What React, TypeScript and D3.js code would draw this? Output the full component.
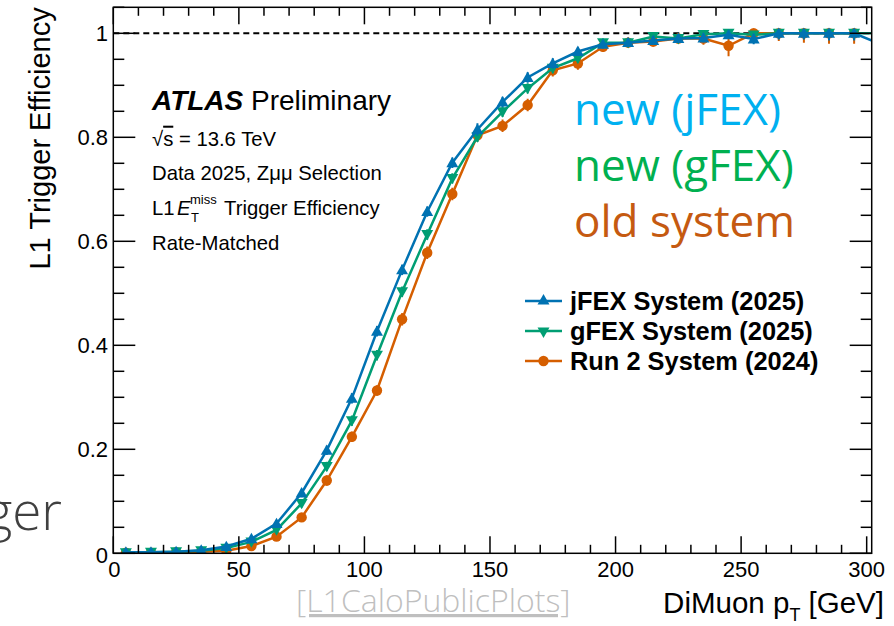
import React from "react";
import * as d3 from "d3";

// ---- data ----
const binCenters = [5, 15, 25, 35, 45, 55, 65, 75, 85, 95, 105, 115, 125, 135, 145, 155, 165, 175, 185, 195, 205, 215, 225, 235, 245, 255, 265, 275, 285, 295, 305];
const jfexEff = [0.002, 0.002, 0.003, 0.006, 0.013, 0.028, 0.057, 0.116, 0.198, 0.298, 0.427, 0.545, 0.657, 0.751, 0.815, 0.868, 0.915, 0.942, 0.965, 0.979, 0.982, 0.986, 0.99, 0.991, 0.997, 0.989, 1.0, 1.0, 1.0, 1.0, 0.98];
const jfexErr = [0.001, 0.001, 0.001, 0.002, 0.003, 0.004, 0.006, 0.008, 0.009, 0.01, 0.01, 0.01, 0.01, 0.01, 0.012, 0.01, 0.01, 0.01, 0.008, 0.008, 0.008, 0.008, 0.008, 0.008, 0.008, 0.01, 0.012, 0.012, 0.014, 0.014, 0.02];
const gfexEff = [0.001, 0.002, 0.003, 0.005, 0.01, 0.022, 0.045, 0.096, 0.167, 0.255, 0.381, 0.503, 0.613, 0.721, 0.801, 0.849, 0.894, 0.933, 0.952, 0.982, 0.982, 0.994, 0.99, 0.998, 1.0, 0.997, 1.0, 1.0, 1.0, 1.0, 1.0];
const gfexErr = [0.001, 0.001, 0.001, 0.002, 0.003, 0.004, 0.006, 0.008, 0.009, 0.01, 0.01, 0.01, 0.01, 0.01, 0.01, 0.01, 0.01, 0.01, 0.008, 0.008, 0.008, 0.008, 0.008, 0.006, 0.006, 0.008, 0.01, 0.01, 0.012, 0.012, 0.01];
const run2Eff = [0.001, 0.001, 0.002, 0.003, 0.005, 0.014, 0.032, 0.069, 0.14, 0.224, 0.313, 0.45, 0.578, 0.691, 0.804, 0.822, 0.862, 0.929, 0.942, 0.974, 0.982, 0.984, 0.99, 0.99, 0.976, 1.0, 1.0, 1.0, 1.0, 1.0];
const run2Err = [0.001, 0.001, 0.001, 0.002, 0.003, 0.004, 0.006, 0.008, 0.01, 0.01, 0.01, 0.012, 0.012, 0.012, 0.012, 0.012, 0.012, 0.012, 0.012, 0.01, 0.01, 0.01, 0.01, 0.012, 0.02, 0.01, 0.015, 0.018, 0.02, 0.02];

const xTicksMajor = [0, 50, 100, 150, 200, 250, 300];
const yTicksMajor = [0, 0.2, 0.4, 0.6, 0.8, 1];
const yTickLabels = ["0", "0.2", "0.4", "0.6", "0.8", "1"];
const legendLabels = ["jFEX System (2025)", "gFEX System (2025)", "Run 2 System (2024)"];
const slideLabels = ["new (jFEX)", "new (gFEX)", "old system"];

const BLUE = "#0072B2";
const GREEN = "#009E73";
const ORANGE = "#D55E00";

const W = 894, H = 626;
const L = 113.3, R = 871.7, T = 7.3, B = 553.3;

const x = d3.scaleLinear().domain([0, 302]).range([L, R]);
const y = d3.scaleLinear().domain([0, 1.05]).range([B, T]);

type Series = { name: string; eff: number[]; err: number[]; color: string; symbol: d3.SymbolType; rot: number; size: number };

const series: Series[] = [
  { name: legendLabels[2], eff: run2Eff, err: run2Err, color: ORANGE, symbol: d3.symbolCircle, rot: 0, size: 85 },
  { name: legendLabels[1], eff: gfexEff, err: gfexErr, color: GREEN, symbol: d3.symbolTriangle, rot: 180, size: 62 },
  { name: legendLabels[0], eff: jfexEff, err: jfexErr, color: BLUE, symbol: d3.symbolTriangle, rot: 0, size: 62 },
];

const helv = "'Liberation Sans', Arial, Helvetica, sans-serif";
const slideFont = "'Open Sans', 'Noto Sans', sans-serif";

export default function App() {
  const line = d3.line<number>().x((_, i) => x(binCenters[i])).y((d) => y(d));
  const xMinor = d3.range(0, 301, 10).filter((v) => v % 50 !== 0);
  const yMinor = d3.range(0, 1.0501, 0.05).filter((v) => Math.abs(v * 5 - Math.round(v * 5)) > 1e-6);
  const legendOrder = [series[2], series[1], series[0]];

  return (
    <svg width={W} height={H} style={{ position: "absolute", left: 0, top: 0, background: "#fff" }}>
      <defs>
        <clipPath id="plotclip">
          <rect x={L} y={T} width={R - L} height={B - T} />
        </clipPath>
      </defs>
      <rect x={0} y={0} width={W} height={H} fill="#fff" />

      {/* dashed line at 1 */}
      <line x1={L} x2={R} y1={y(1)} y2={y(1)} stroke="#000" strokeWidth={2} strokeDasharray="6,4" />

      {/* series */}
      <g clipPath="url(#plotclip)">
        {series.map((s) => (
          <g key={s.name}>
            <path d={line(s.eff) || ""} fill="none" stroke={s.color} strokeWidth={2.5} />
            {s.eff.map((v, i) => (
              <line key={"e" + i} x1={x(binCenters[i])} x2={x(binCenters[i])} y1={y(Math.min(1, v + s.err[i]))} y2={y(Math.max(0, v - s.err[i]))} stroke={s.color} strokeWidth={2} />
            ))}
            {s.eff.map((v, i) => (
              <path key={"m" + i} d={d3.symbol().type(s.symbol).size(s.size)() || ""} transform={`translate(${x(binCenters[i])},${y(v) + (s.rot ? -1 : (s.symbol === d3.symbolTriangle ? 1 : 0))}) rotate(${s.rot})`} fill={s.color} />
            ))}
          </g>
        ))}
      </g>

      {/* frame */}
      <rect x={L} y={T} width={R - L} height={B - T} fill="none" stroke="#000" strokeWidth={1.5} />

      {/* x ticks */}
      {xTicksMajor.map((v) => (
        <g key={"xt" + v}>
          <line x1={x(v)} x2={x(v)} y1={B} y2={B - 17} stroke="#000" strokeWidth={1.5} />
          <line x1={x(v)} x2={x(v)} y1={T} y2={T + 17} stroke="#000" strokeWidth={1.5} />
          <text x={x(v) + (v === 0 ? 1 : 0)} y={577} textAnchor="middle" fontFamily={helv} fontSize={22}>{v}</text>
        </g>
      ))}
      {xMinor.map((v) => (
        <g key={"xm" + v}>
          <line x1={x(v)} x2={x(v)} y1={B} y2={B - 8.5} stroke="#000" strokeWidth={1.5} />
          <line x1={x(v)} x2={x(v)} y1={T} y2={T + 8.5} stroke="#000" strokeWidth={1.5} />
        </g>
      ))}

      {/* y ticks */}
      {yTicksMajor.map((v, i) => (
        <g key={"yt" + v}>
          <line x1={L} x2={L + 22} y1={y(v)} y2={y(v)} stroke="#000" strokeWidth={1.5} />
          <line x1={R} x2={R - 22} y1={y(v)} y2={y(v)} stroke="#000" strokeWidth={1.5} />
          <text x={108} y={y(v) + (v === 0 ? 2 : 0)} dy="0.36em" textAnchor="end" fontFamily={helv} fontSize={22}>{yTickLabels[i]}</text>
        </g>
      ))}
      {yMinor.map((v) => (
        <g key={"ym" + v}>
          <line x1={L} x2={L + 11} y1={y(v)} y2={y(v)} stroke="#000" strokeWidth={1.5} />
          <line x1={R} x2={R - 11} y1={y(v)} y2={y(v)} stroke="#000" strokeWidth={1.5} />
        </g>
      ))}

      {/* axis titles */}
      <text transform={`translate(50,${T}) rotate(-90)`} textAnchor="end" fontFamily={helv} fontSize={29}>L1 Trigger Efficiency</text>
      <text x={884} y={613} textAnchor="end" fontFamily={helv} fontSize={29.5}>
        DiMuon p<tspan fontSize={18} dy={8}>T</tspan><tspan dy={-8}> [GeV]</tspan>
      </text>

      {/* ATLAS label */}
      <text x={152} y={110} fontFamily={helv} fontSize={28}>
        <tspan fontWeight="bold" fontStyle="italic">ATLAS</tspan>
        <tspan> Preliminary</tspan>
      </text>
      <text x={152} y={145.7} fontFamily={helv} fontSize={20.3}>
        √<tspan style={{ textDecoration: "overline" }}>s</tspan> = 13.6 TeV
      </text>
      <text x={152} y={180} fontFamily={helv} fontSize={20.3}>Data 2025, Zμμ Selection</text>
      <text x={152} y={215} fontFamily={helv} fontSize={20.3}>L1</text>
      <text x={177} y={215} fontFamily={helv} fontSize={20.3} fontStyle="italic">E</text>
      <text x={190} y={204} fontFamily={helv} fontSize={13}>miss</text>
      <text x={191} y={222} fontFamily={helv} fontSize={13}>T</text>
      <text x={224} y={215} fontFamily={helv} fontSize={20.3}>Trigger Efficiency</text>
      <text x={152} y={250} fontFamily={helv} fontSize={20.3}>Rate-Matched</text>

      {/* legend */}
      {legendOrder.map((s, i) => {
        const cy = 301 + i * 30;
        return (
          <g key={"lg" + i}>
            <line x1={525} x2={562} y1={cy} y2={cy} stroke={s.color} strokeWidth={2.5} />
            <path d={d3.symbol().type(s.symbol).size(s.size)() || ""} transform={`translate(543.5,${cy}) rotate(${s.rot})`} fill={s.color} />
            <text x={570} y={cy + 8.5} fontFamily={helv} fontSize={25.4} fontWeight="bold">{s.name}</text>
          </g>
        );
      })}

      {/* slide overlay texts */}
      <text x={574} y={125} fontFamily={slideFont} fontSize={44} fill="#00B0F0">{slideLabels[0]}</text>
      <text x={574} y={181} fontFamily={slideFont} fontSize={44} fill="#00B050">{slideLabels[1]}</text>
      <text x={574} y={237} fontFamily={slideFont} fontSize={44} fill="#C55A11">{slideLabels[2]}</text>

      <text x={62} y={530} textAnchor="end" fontFamily={slideFont} fontWeight={300} fontSize={53} fill="#404040">Trigger</text>
      <text x={296} y={612} fontFamily={slideFont} fontWeight={300} fontSize={32} fill="#BFBFBF" textDecoration="underline">[L1CaloPublicPlots]</text>
    </svg>
  );
}
